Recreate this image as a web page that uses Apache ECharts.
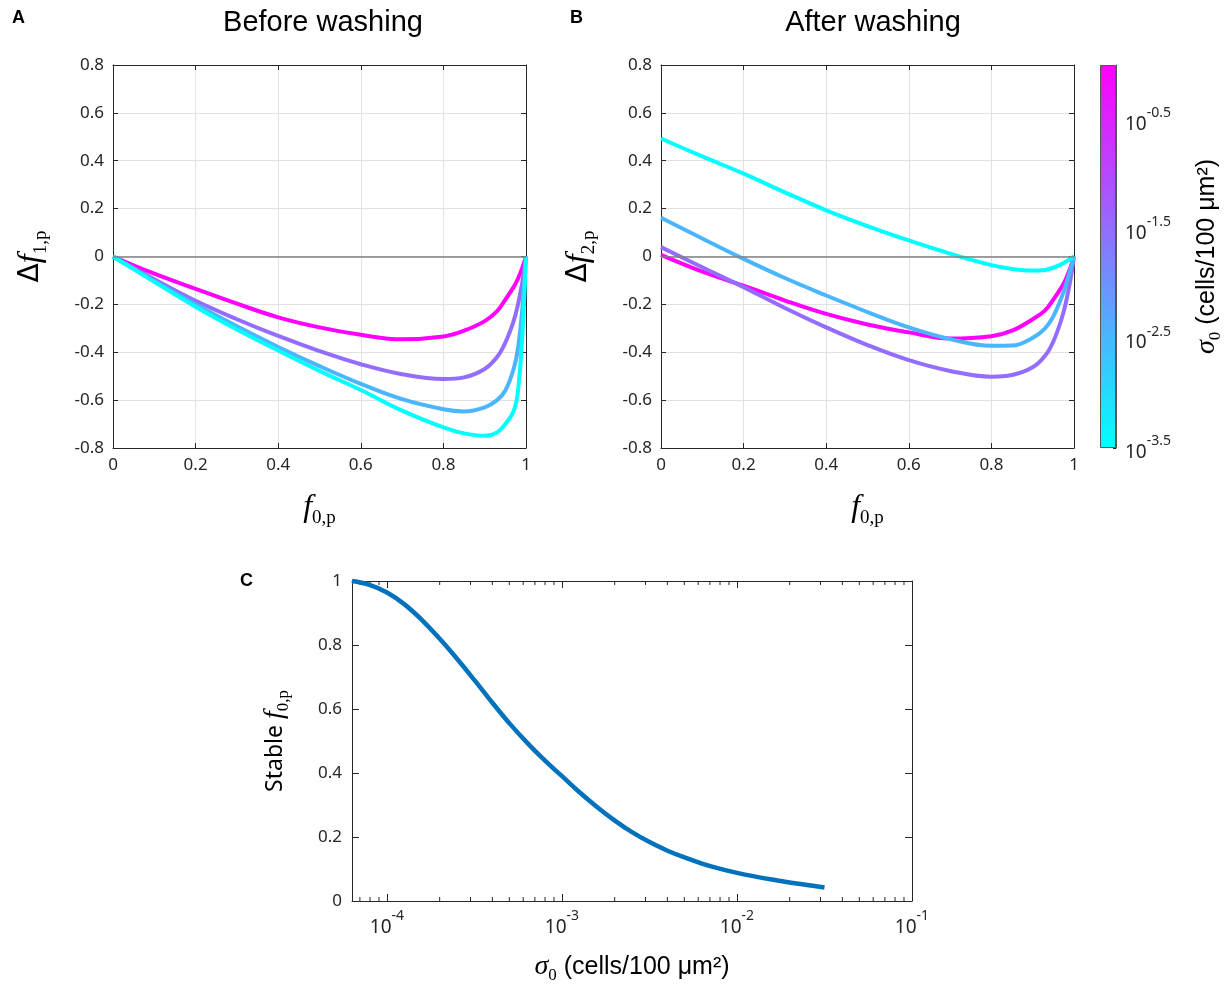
<!DOCTYPE html>
<html>
<head>
<meta charset="utf-8">
<script src="https://cdn.jsdelivr.net/npm/echarts@6/dist/echarts.min.js"></script>
<style>html,body{margin:0;background:#fff}#main{width:1225px;height:987px}</style>
</head>
<body>
<div id="main"></div>
<script>
// f0,p sample points shared by panels A and B
const fGrid = [0, 0.1, 0.2, 0.3, 0.4, 0.5, 0.6, 0.7, 0.8, 0.85, 0.9, 0.93, 0.95, 0.97, 0.98, 0.99, 0.995, 1];

// panel A: before washing
const magentaA = [0, -0.072, -0.135, -0.197, -0.254, -0.296, -0.327, -0.346, -0.334, -0.31, -0.27, -0.228, -0.18, -0.128, -0.095, -0.052, -0.027, 0];
const purpleA = [0, -0.095, -0.185, -0.262, -0.332, -0.395, -0.45, -0.492, -0.512, -0.505, -0.47, -0.42, -0.36, -0.27, -0.205, -0.118, -0.062, 0];
const blueA = [0, -0.102, -0.2, -0.292, -0.378, -0.458, -0.532, -0.596, -0.638, -0.647, -0.63, -0.6, -0.56, -0.47, -0.39, -0.24, -0.13, 0];
const cyanA = [0, -0.106, -0.21, -0.305, -0.393, -0.478, -0.558, -0.644, -0.714, -0.739, -0.749, -0.735, -0.70, -0.645, -0.57, -0.36, -0.2, 0];

// panel B: after washing
const magentaB = [0.007, -0.063, -0.122, -0.184, -0.24, -0.284, -0.317, -0.343, -0.333, -0.31, -0.262, -0.225, -0.18, -0.128, -0.095, -0.052, -0.027, 0];
const purpleB = [0.039, -0.045, -0.128, -0.215, -0.296, -0.37, -0.433, -0.478, -0.502, -0.495, -0.463, -0.415, -0.355, -0.26, -0.195, -0.11, -0.057, 0];
const blueB = [0.162, 0.075, -0.01, -0.09, -0.163, -0.232, -0.296, -0.345, -0.373, -0.372, -0.34, -0.3, -0.25, -0.17, -0.12, -0.062, -0.03, 0];
const cyanB = [0.493, 0.418, 0.346, 0.268, 0.193, 0.127, 0.067, 0.012, -0.036, -0.052, -0.059, -0.056, -0.047, -0.032, -0.022, -0.011, -0.005, 0];

// line colours (cool colormap)
const lineColors = ['#ff00ff', '#926dff', '#49b6ff', '#00ffff'];

// panel C: stable f0,p vs log10(sigma0)
const sigmaExp = [-4.2, -4.1, -4.0, -3.9, -3.8, -3.7, -3.6, -3.5, -3.4, -3.3, -3.2, -3.1, -3.0, -2.9, -2.8, -2.7, -2.6, -2.5, -2.4, -2.3, -2.2, -2.1, -2.0, -1.9, -1.8, -1.7, -1.6, -1.5];
const stableF = [1.000, 0.988, 0.964, 0.927, 0.878, 0.820, 0.757, 0.690, 0.621, 0.555, 0.495, 0.440, 0.390, 0.340, 0.294, 0.252, 0.215, 0.184, 0.158, 0.136, 0.117, 0.101, 0.088, 0.077, 0.067, 0.058, 0.050, 0.042];
const minorTicksC = [7e-5, 8e-5, 9e-5, 2e-4, 3e-4, 4e-4, 5e-4, 6e-4, 7e-4, 8e-4, 9e-4,
    2e-3, 3e-3, 4e-3, 5e-3, 6e-3, 7e-3, 8e-3, 9e-3, 2e-2, 3e-2, 4e-2, 5e-2, 6e-2, 7e-2, 8e-2, 9e-2];

// colorbar: exponent range 10^-3.5 .. 10^0
const cbarMinExp = -3.5;
const cbarSpan = 3.5;

const ink = '#262626';
const tickFont = {fontFamily: 'Noto Sans', fontSize: 17, color: ink};
const serif = 'Liberation Serif';

const pair = (xs, ys) => xs.map((x, i) => [x, ys[i]]);

function fName(sub) {
    return '{f|f}{s|' + sub + '}';
}
const fRich = {
    d: {fontFamily: 'DejaVu Sans', fontSize: 28, color: '#000', lineHeight: 40, verticalAlign: 'middle'},
    f: {fontFamily: serif, fontStyle: 'italic', fontSize: 32, color: '#000', lineHeight: 40, verticalAlign: 'middle'},
    s: {fontFamily: serif, fontSize: 19, color: '#000', lineHeight: 19, verticalAlign: 'bottom'}
};
const sigmaRich = {
    g: {fontFamily: serif, fontStyle: 'italic', fontSize: 28, color: '#000', lineHeight: 34, verticalAlign: 'middle'},
    s: {fontFamily: serif, fontSize: 17, color: '#000', lineHeight: 17, verticalAlign: 'bottom'},
    t: {fontFamily: 'Liberation Sans', fontSize: 25, color: '#000', lineHeight: 34, verticalAlign: 'middle'}
};
const powRich = {
    b: {fontFamily: 'Noto Sans', fontSize: 19, color: ink, lineHeight: 28, verticalAlign: 'bottom'},
    p: {fontFamily: 'Noto Sans', fontSize: 14, color: ink, lineHeight: 15, verticalAlign: 'top'}
};

function boxX(grid, opts) {
    const base = {
        type: 'value', gridIndex: grid, min: 0, max: 1, interval: 0.2,
        axisLine: {show: true, onZero: false, lineStyle: {color: ink, width: 1}},
        axisTick: {show: true, inside: true, length: 5, lineStyle: {color: ink}},
        splitLine: {show: false}
    };
    return Object.assign(base, opts);
}
function boxY(grid, opts) {
    const base = {
        type: 'value', gridIndex: grid, min: -0.8, max: 0.8, interval: 0.2,
        axisLine: {show: true, onZero: false, lineStyle: {color: ink, width: 1}},
        axisTick: {show: true, inside: true, length: 5, lineStyle: {color: ink}},
        splitLine: {show: false}
    };
    return Object.assign(base, opts);
}
const gridLine = {show: true, lineStyle: {color: '#e2e2e2', width: 1}};

const xAxes = [
    boxX(0, {position: 'bottom', axisLabel: Object.assign({margin: 9}, tickFont), splitLine: gridLine,
        name: fName('0,p'), nameLocation: 'middle', nameGap: 40, nameTextStyle: {rich: fRich}}),
    boxX(0, {position: 'top', axisLabel: {show: false}}),
    boxX(1, {position: 'bottom', axisLabel: Object.assign({margin: 9}, tickFont), splitLine: gridLine,
        name: fName('0,p'), nameLocation: 'middle', nameGap: 40, nameTextStyle: {rich: fRich}}),
    boxX(1, {position: 'top', axisLabel: {show: false}}),
    {type: 'category', gridIndex: 2, data: [''], show: false},
    {
        type: 'log', logBase: 10, gridIndex: 3, min: Math.pow(10, -4.2), max: 0.1, position: 'bottom',
        axisLine: {show: true, onZero: false, lineStyle: {color: ink}},
        axisTick: {show: true, inside: true, length: 7, lineStyle: {color: ink}},
        axisLabel: {margin: 8, showMinLabel: false, rich: powRich,
            formatter: v => '{b|10}{p|' + Math.round(Math.log10(v)) + '}'},
        splitLine: {show: false},
        name: '{g|σ}{s|0}{t| (cells/100 μm²)}', nameLocation: 'middle', nameGap: 49,
        nameTextStyle: {rich: sigmaRich}
    },
    {
        type: 'log', logBase: 10, gridIndex: 3, min: Math.pow(10, -4.2), max: 0.1, position: 'top',
        axisLine: {show: true, onZero: false, lineStyle: {color: ink}},
        axisTick: {show: true, inside: true, length: 7, lineStyle: {color: ink}},
        axisLabel: {show: false}, splitLine: {show: false}
    }
];

const yAxes = [
    boxY(0, {position: 'left', axisLabel: Object.assign({margin: 9}, tickFont), splitLine: gridLine,
        name: '{d|Δ}' + fName('1,p'), nameLocation: 'middle', nameGap: 62, nameRotate: 90, nameTextStyle: {rich: fRich}}),
    boxY(0, {position: 'right', axisLabel: {show: false}}),
    boxY(1, {position: 'left', axisLabel: Object.assign({margin: 9}, tickFont), splitLine: gridLine,
        name: '{d|Δ}' + fName('2,p'), nameLocation: 'middle', nameGap: 62, nameRotate: 90, nameTextStyle: {rich: fRich}}),
    boxY(1, {position: 'right', axisLabel: {show: false}}),
    {
        type: 'value', gridIndex: 2, min: 0, max: cbarSpan, interval: 1, position: 'right',
        axisLine: {show: true, lineStyle: {color: '#555'}},
        axisTick: {show: true, inside: true, length: 3, lineStyle: {color: ink}},
        axisLabel: {margin: 9, showMaxLabel: false, rich: powRich,
            formatter: v => '{b|10}{p|' + (v + cbarMinExp) + '}'},
        splitLine: {show: false},
        name: '{g|σ}{s|0}{t| (cells/100 μm²)}', nameLocation: 'middle', nameGap: 74, nameRotate: 90,
        nameTextStyle: {rich: sigmaRich}
    },
    {
        type: 'value', gridIndex: 3, min: 0, max: 1, interval: 0.2, position: 'left',
        axisLine: {show: true, onZero: false, lineStyle: {color: ink}},
        axisTick: {show: true, inside: true, length: 7, lineStyle: {color: ink}},
        axisLabel: Object.assign({margin: 10}, tickFont),
        splitLine: {show: false},
        name: '{t|Stable }' + fName('0,p'), nameLocation: 'middle', nameGap: 60, nameRotate: 90,
        nameTextStyle: {rich: {
            t: {fontFamily: 'Noto Sans', fontSize: 23, color: '#000', lineHeight: 34, verticalAlign: 'middle'},
            f: {fontFamily: serif, fontStyle: 'italic', fontSize: 28, color: '#000', lineHeight: 34, verticalAlign: 'middle'},
            s: {fontFamily: serif, fontSize: 17, color: '#000', lineHeight: 17, verticalAlign: 'bottom'}
        }}
    },
    {
        type: 'value', gridIndex: 3, min: 0, max: 1, interval: 0.2, position: 'right',
        axisLine: {show: true, onZero: false, lineStyle: {color: ink}},
        axisTick: {show: true, inside: true, length: 7, lineStyle: {color: ink}},
        axisLabel: {show: false}, splitLine: {show: false}
    }
];

function curve(data, color, xi) {
    return {
        type: 'line', xAxisIndex: xi, yAxisIndex: xi, data: data, smooth: 0.4,
        symbol: 'none', lineStyle: {color: color, width: 4}, z: 3
    };
}
function zeroLine(xi) {
    return {
        type: 'line', xAxisIndex: xi, yAxisIndex: xi, data: [], z: 2,
        markLine: {silent: true, symbol: 'none', label: {show: false},
            lineStyle: {color: '#808080', width: 1.5, type: 'solid'}, data: [{yAxis: 0}]}
    };
}

const series = [
    zeroLine(0), zeroLine(2),
    curve(pair(fGrid, magentaA), lineColors[0], 0),
    curve(pair(fGrid, purpleA), lineColors[1], 0),
    curve(pair(fGrid, blueA), lineColors[2], 0),
    curve(pair(fGrid, cyanA), lineColors[3], 0),
    curve(pair(fGrid, magentaB), lineColors[0], 2),
    curve(pair(fGrid, purpleB), lineColors[1], 2),
    curve(pair(fGrid, blueB), lineColors[2], 2),
    curve(pair(fGrid, cyanB), lineColors[3], 2),
    {
        type: 'bar', xAxisIndex: 4, yAxisIndex: 4, data: [cbarSpan], barWidth: '100%', silent: true,
        itemStyle: {
            color: new echarts.graphic.LinearGradient(0, 0, 0, 1, [
                {offset: 0, color: lineColors[0]}, {offset: 1, color: lineColors[3]}
            ]),
            borderColor: '#555', borderWidth: 1
        }
    },
    {
        type: 'line', xAxisIndex: 5, yAxisIndex: 5,
        data: sigmaExp.map((e, i) => [Math.pow(10, e), stableF[i]]),
        smooth: 0.4, symbol: 'none', lineStyle: {color: '#0072bd', width: 4.5}
    },
    {
        type: 'custom', xAxisIndex: 5, yAxisIndex: 5, silent: true,
        data: minorTicksC.map(v => [v, 0]),
        encode: {x: 0, y: 1},
        renderItem: (params, api) => {
            const b = api.coord([api.value(0), 0]);
            const t = api.coord([api.value(0), 1]);
            return {type: 'group', children: [
                {type: 'line', shape: {x1: b[0], y1: b[1], x2: b[0], y2: b[1] - 4}, style: {stroke: ink, lineWidth: 1}},
                {type: 'line', shape: {x1: t[0], y1: t[1], x2: t[0], y2: t[1] + 4}, style: {stroke: ink, lineWidth: 1}}
            ]};
        }
    }
];

const letterFont = 'bold 18px "Liberation Sans"';
const titleFont = '29px "Liberation Sans"';

const option = {
    animation: false,
    backgroundColor: '#fff',
    grid: [
        {left: 113, top: 65, width: 413, height: 383},
        {left: 661, top: 65, width: 413, height: 383},
        {left: 1100, top: 65, width: 17, height: 383},
        {left: 352, top: 581, width: 560, height: 320}
    ],
    xAxis: xAxes,
    yAxis: yAxes,
    series: series,
    graphic: [
        {type: 'text', x: 12, y: 9, style: {text: 'A', font: letterFont, fill: '#000'}},
        {type: 'text', x: 570, y: 9, style: {text: 'B', font: letterFont, fill: '#000'}},
        {type: 'text', x: 240, y: 572, style: {text: 'C', font: letterFont, fill: '#000'}},
        {type: 'text', x: 323, y: 23, style: {text: 'Before washing', font: titleFont, fill: '#000', align: 'center', verticalAlign: 'middle'}},
        {type: 'text', x: 873, y: 23, style: {text: 'After washing', font: titleFont, fill: '#000', align: 'center', verticalAlign: 'middle'}}
    ]
};

echarts.init(document.getElementById('main')).setOption(option);
</script>
</body>
</html>
